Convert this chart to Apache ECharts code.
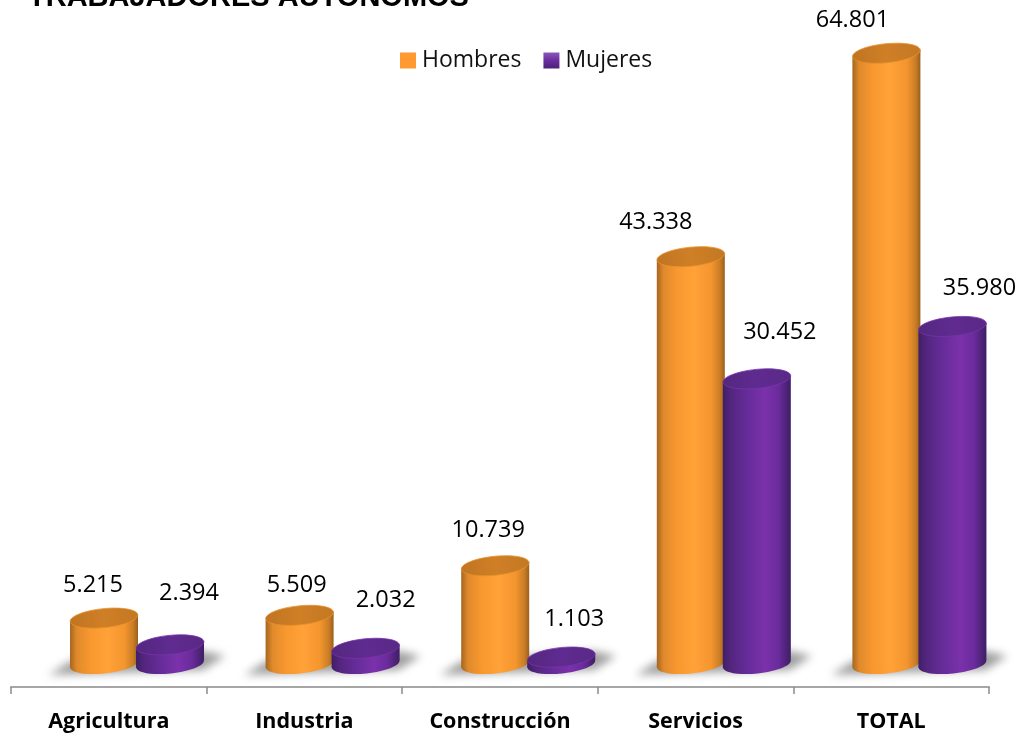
<!DOCTYPE html>
<html><head><meta charset="utf-8">
<style>html,body{margin:0;padding:0;background:#fff}#c{width:1021px;height:735px}</style>
<script src="https://cdn.jsdelivr.net/npm/echarts@6/dist/echarts.min.js"></script>
</head><body><div id="c"></div>
<script>
const titleText = 'TRABAJADORES AUTONOMOS';
const categories = ['Agricultura','Industria','Construcción','Servicios','TOTAL'];
const hombres = [5215,5509,10739,43338,64801];
const mujeres = [2394,2032,1103,30452,35980];
// label nudges relative to each cylinder's top, px
const hombresLabelNudge = [[-11,-33],[-3,-30],[-7,-35],[-35,-34],[-34,-33]];
const mujeresLabelNudge = [[19,-52],[20,-48],[13,-38],[23,-47],[27,-38]];

const chart = echarts.init(document.getElementById('c'), null, {renderer:'canvas'});
const LG = (stops, x2=1, y2=0) => new echarts.graphic.LinearGradient(0,0,x2,y2,stops.map((c,i)=>({offset:c[0],color:c[1]})));
const fmt = v => String(v).replace(/\B(?=(\d{3})+$)/g,'.');
const HW = 34, RY = 9.5, TILT = 0.1, FLOOR = 664, FONT = '"Open Sans"', OFF = 3000;

const palette = {
  h:{body:[[0,'#a5661f'],[0.1,'#e08a2c'],[0.3,'#f8982f'],[0.55,'#ffa238'],[0.8,'#f4952e'],[0.93,'#c97d26'],[1,'#9a5f1c']],
     top:[[0,'#c07422'],[0.5,'#cf7f26'],[1,'#c47823']], rim:'#e8912d'},
  m:{body:[[0,'#3f1f66'],[0.12,'#54267f'],[0.35,'#652c99'],[0.62,'#7b31ab'],[0.82,'#6a2b9c'],[0.95,'#4a2273'],[1,'#3f1f66']],
     top:[[0,'#54277f'],[0.5,'#5f2b90'],[1,'#5a2986']], rim:'#7833a8'}
};

function cylinder(params, api, offset, pal, nudge, withShadow){
  const i = api.value(0), v = api.value(1);
  const pt = api.coord([i, v]);
  const cw = api.size([1,0])[0];
  const cx = pt[0] + cw*offset, top = pt[1];
  const dy = HW*Math.tan(TILT);
  const children = [];
  if(withShadow){
    const gx = cx + cw*0.168 - OFF;
    children.push({type:'polygon',
      shape:{points:[[gx-88,FLOOR+11],[gx-66,FLOOR-3],[gx+66,FLOOR-13],[gx+88,FLOOR-8],[gx+66,FLOOR+6]]},
      style:{fill:'#000',shadowBlur:9,shadowOffsetX:OFF,shadowColor:'rgba(135,135,135,0.8)'}});
  }
  children.push({type:'ellipse',x:cx,y:FLOOR,rotation:TILT,shape:{cx:0,cy:0,rx:HW,ry:RY},
    style:{fill:LG(pal.body)}});
  children.push({type:'polygon',
    shape:{points:[[cx-HW,top+dy],[cx+HW,top-dy],[cx+HW,FLOOR-dy],[cx-HW,FLOOR+dy]]},
    style:{fill:LG(pal.body)}});
  children.push({type:'ellipse',x:cx,y:top,rotation:TILT,shape:{cx:0,cy:0,rx:HW,ry:RY},
    style:{fill:LG(pal.top),stroke:pal.rim,lineWidth:0.8}});
  const n = nudge[i];
  children.push({type:'text',x:cx+n[0],y:top+n[1],
    style:{text:fmt(v),fontFamily:FONT,fontSize:23.5,fill:'#000',align:'center',verticalAlign:'middle'}});
  return {type:'group',children};
}

chart.setOption({
  animation:false,
  backgroundColor:'#fff',
  title:{text:titleText,left:28,top:-17,padding:0,
    textStyle:{fontFamily:'"Liberation Sans"',fontWeight:'bold',fontSize:29,color:'#000'}},
  legend:{left:395,top:44,itemWidth:16,itemHeight:16,itemGap:22,icon:'rect',
    textStyle:{fontFamily:FONT,fontSize:23,color:'#111',padding:[0,0,0,1]},
    data:['Hombres','Mujeres']},
  grid:{left:11,right:32,top:3,bottom:48},
  xAxis:{type:'category',data:categories,
    axisLine:{onZero:false,lineStyle:{color:'#a6a6a6',width:2}},
    axisTick:{show:true,length:7,lineStyle:{color:'#8c8c8c',width:1.5}},
    axisLabel:{fontFamily:FONT,fontWeight:'bold',fontSize:21.5,color:'#000',margin:24}},
  yAxis:{type:'value',min:-2050,max:70100,show:false,splitLine:{show:false}},
  series:[
    {name:'Hombres',type:'custom',coordinateSystem:'cartesian2d',z:2,
     itemStyle:{color:'#ff9a32'},
     data:hombres.map((v,i)=>[i,v]),encode:{x:0,y:1},clip:false,
     renderItem:(p,a)=>cylinder(p,a,-0.0245,palette.h,hombresLabelNudge,true)},
    {name:'Mujeres',type:'custom',coordinateSystem:'cartesian2d',z:3,
     itemStyle:{color:LG([[0,'#8a58b8'],[0.5,'#6a2ea0'],[1,'#4a2278']],0,1)},
     data:mujeres.map((v,i)=>[i,v]),encode:{x:0,y:1},clip:false,
     renderItem:(p,a)=>cylinder(p,a,0.313,palette.m,mujeresLabelNudge,false)}
  ]
});
</script></body></html>
